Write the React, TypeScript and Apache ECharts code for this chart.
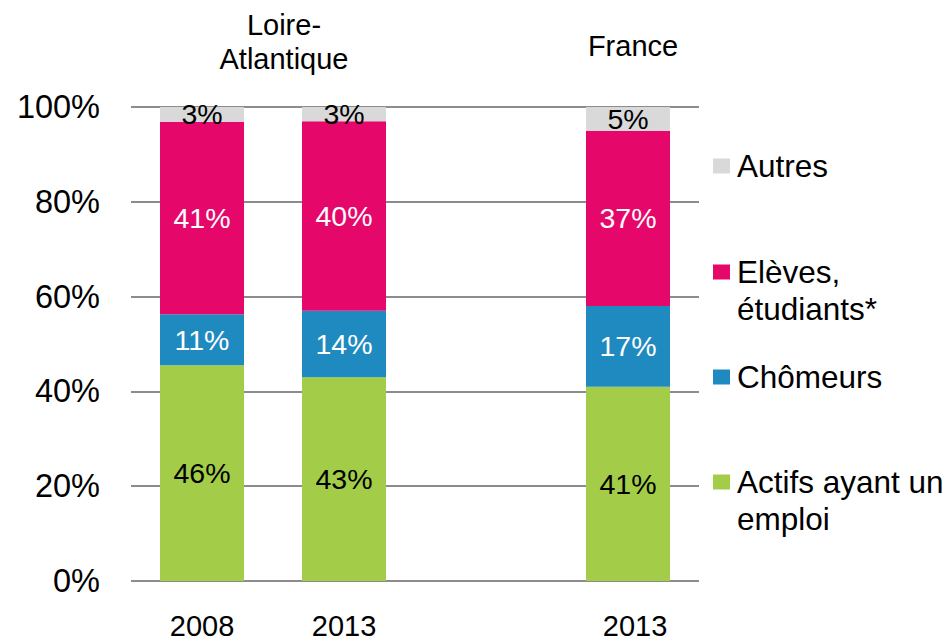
import React, { useEffect, useRef } from "react";
import * as echarts from "echarts";

const categories = ["2008", "2013", "", "2013"];
const seriesNames = ["Actifs ayant un emploi", "Chômeurs", "Elèves, étudiants*", "Autres"];
const actifs = [45.5, 43, null, 41];
const chomeurs = [10.8, 14, null, 17];
const eleves = [40.6, 40, null, 37];
const autres = [3.1, 3, null, 5];
const yTicks = [0, 20, 40, 60, 80, 100];
const groupTitles = ["Loire-\nAtlantique", "France"];

const legendLines: Record<string, string[]> = {
  "Actifs ayant un emploi": ["Actifs ayant un", "emploi"],
  "Chômeurs": ["Chômeurs"],
  "Elèves, étudiants*": ["Elèves,", "étudiants*"],
  "Autres": ["Autres"],
};

const FONT = "'Liberation Sans', Arial, sans-serif";
const COLORS = ["#A3CD48", "#1F8AC0", "#E5086A", "#D9D9D9"];
const LABEL_COLORS = ["#000000", "#FFFFFF", "#FFFFFF", "#000000"];

export default function App() {
  const ref = useRef<HTMLDivElement>(null);
  useEffect(() => {
    document.body.style.margin = "0";
    if (!ref.current) return;
    const chart = echarts.init(ref.current, null, { renderer: "svg" });
    const values = [actifs, chomeurs, eleves, autres];
    const legendTops = [427.25, 358.75, 217.25, 147.75];
    const LH = 36.5;
    const option: any = {
      animation: false,
      textStyle: { fontFamily: FONT },
      grid: { left: 131, right: 250, top: 107, bottom: 57, containLabel: false },
      xAxis: {
        type: "category",
        data: categories.map((c, i) =>
          i === 3 ? { value: c, textStyle: { padding: [0, 0, 0, 14] } } : c
        ),
        axisLine: { show: false },
        axisTick: { show: false },
        axisLabel: {
          color: "#000",
          fontSize: 29,
          lineHeight: 30,
          margin: 30,
          fontFamily: FONT,
          interval: 0,
        },
      },
      yAxis: {
        type: "value",
        min: yTicks[0],
        max: yTicks[yTicks.length - 1],
        interval: 20,
        axisLine: { show: false },
        axisTick: { show: false },
        axisLabel: {
          color: "#000",
          fontSize: 32.5,
          margin: 31,
          fontFamily: FONT,
          formatter: "{value}%",
        },
        splitLine: { lineStyle: { color: "#8C8C8C", width: 2 } },
      },
      legend: seriesNames.map((name, i) => {
        const lines = legendLines[name];
        const extra = (lines.length - 1) * LH;
        return {
          show: true,
          data: [name],
          orient: "vertical",
          left: 713,
          top: legendTops[i],
          padding: 0,
          itemWidth: 17,
          itemHeight: 15,
          icon: "rect",
          selectedMode: false,
          formatter: (n: string) =>
            legendLines[n].map((l) => `{t|${l}}`).join("\n"),
          textStyle: {
            color: "#000",
            fontSize: 31.5,
            lineHeight: LH,
            fontFamily: FONT,
            padding: [extra, 0, 0, 2],
            rich: {
              t: { color: "#000", fontSize: 31.5, lineHeight: LH, fontFamily: FONT },
            },
          },
        };
      }),
      graphic: [
        {
          type: "text",
          x: 284,
          y: 42.4,
          style: {
            text: groupTitles[0],
            fill: "#000",
            fontSize: 29,
            fontFamily: FONT,
            lineHeight: 34,
            align: "center",
            verticalAlign: "middle",
          },
        },
        {
          type: "text",
          x: 633,
          y: 46,
          style: {
            text: groupTitles[1],
            fill: "#000",
            fontSize: 29,
            fontFamily: FONT,
            align: "center",
            verticalAlign: "middle",
          },
        },
      ],
      series: seriesNames.map((name, i) => ({
        name,
        type: "bar",
        stack: "total",
        barWidth: 84,
        data: values[i],
        itemStyle: { color: COLORS[i] },
        label: {
          show: true,
          position: "inside",
          color: LABEL_COLORS[i],
          fontSize: 28.5,
          fontFamily: FONT,
          formatter: (p: any) =>
            p.value == null ? "" : `${Math.round(p.value)}%`,
        },
      })),
    };
    chart.setOption(option);
    return () => chart.dispose();
  }, []);
  return (
    <div
      ref={ref}
      style={{ position: "absolute", left: 0, top: 0, width: 949, height: 641 }}
    />
  );
}
